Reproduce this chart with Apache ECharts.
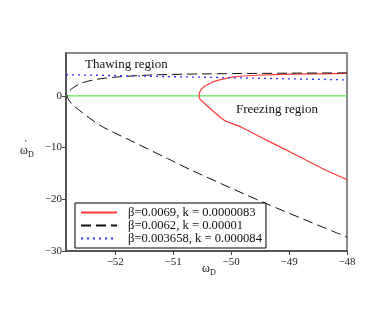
<!DOCTYPE html>
<html>
<head>
<meta charset="utf-8">
<script src="https://cdn.jsdelivr.net/npm/echarts@6/dist/echarts.min.js"></script>
<style>
  html, body { margin: 0; padding: 0; background: #fff; }
  #chart { width: 382px; height: 327px; }
</style>
</head>
<body>
<div id="chart"></div>
<script>
// curve data (omega_D, omega_D')
var redX = [-48, -48.96, -49.54, -49.95, -50.23, -50.35, -50.47, -50.53, -50.55, -50.55, -50.52, -50.12, -49.83, -49.4, -48.76, -48.4, -48];
var redY = [4.35, 4.2, 4.0, 3.7, 3.0, 2.5, 1.74, 1.0, 0.2, -0.3, -0.83, -4.7, -6.0, -8.5, -12.1, -14.2, -16.2];

var blackX = [-48, -49, -50.5, -51.34, -51.92, -52.32, -52.6, -52.78, -52.83, -52.79, -52.72, -52.26, -51.74, -51.1, -50.68, -49.4, -48];
var blackY = [4.45, 4.4, 4.25, 4.06, 3.7, 3.2, 2.4, 1.1, 0, -1.0, -1.9, -5.7, -8.6, -12.1, -14.4, -20.8, -27.3];

var blueX = [-52.85, -48];
var blueY = [4.1, 3.1];

var greenX = [-52.85, -48];
var greenY = [0, 0];

var legendNames = ['β=0.0069, k = 0.0000083', 'β=0.0062, k = 0.00001', 'β=0.003658, k = 0.000084'];
var xTicks = [-52, -51, -50, -49, -48];
var yTicks = [-30, -20, -10, 0];

function pairs(xs, ys) {
  return xs.map(function (x, i) { return [x, ys[i]]; });
}

var serif = 'Liberation Serif';
var minus = function (v) { return v < 0 ? '\u2212' + Math.abs(v) : String(v); };

var chart = echarts.init(document.getElementById('chart'));
chart.setOption({
  animation: false,
  backgroundColor: '#fff',
  grid: {
    left: 66, right: 35, top: 53, bottom: 76,
    show: true, borderColor: '#666', borderWidth: 1.5
  },
  xAxis: {
    type: 'value', min: -52.85, max: -48,
    axisLine: { show: true, onZero: false, lineStyle: { color: '#444', width: 1.5 } },
    axisTick: { show: true, length: 4, customValues: xTicks, lineStyle: { color: '#444' } },
    axisLabel: { customValues: xTicks, formatter: minus, color: '#222', fontFamily: serif, fontSize: 11, margin: 6 },
    splitLine: { show: false }
  },
  yAxis: {
    type: 'value', min: -30, max: 8.3,
    axisLine: { show: true, onZero: false, lineStyle: { color: '#444', width: 1.5 } },
    axisTick: { show: true, length: 4, customValues: yTicks, lineStyle: { color: '#444' } },
    axisLabel: { customValues: yTicks, formatter: minus, color: '#222', fontFamily: serif, fontSize: 11, margin: 4 },
    splitLine: { show: false }
  },
  legend: {
    data: legendNames,
    orient: 'vertical',
    left: 75, top: 203,
    backgroundColor: '#fff',
    borderColor: '#000', borderWidth: 1,
    borderRadius: 0,
    padding: [3, 4, 3, 5],
    itemWidth: 36, itemHeight: 8, itemGap: 0,
    itemStyle: { opacity: 0 },
    textStyle: { fontFamily: serif, fontSize: 12.6, lineHeight: 11, height: 11, color: '#111', padding: [0, 0, 0, 6] }
  },
  graphic: [
    { type: 'text', left: 85, top: 58, style: { text: 'Thawing region', font: '13px "Liberation Serif"', fill: '#111' } },
    { type: 'text', left: 236, top: 103, style: { text: 'Freezing region', font: '13px "Liberation Serif"', fill: '#111' } },
    { type: 'text', left: 20, top: 145, style: { text: 'ω', font: '12px "Liberation Serif"', fill: '#111' } },
    { type: 'text', left: 25, top: 139, style: { text: '\'', font: '9px "Liberation Serif"', fill: '#111' } },
    { type: 'text', left: 28, top: 151, style: { text: 'D', font: '8px "Liberation Serif"', fill: '#111' } },
    { type: 'text', left: 202, top: 263, style: { text: 'ω', font: '12px "Liberation Serif"', fill: '#111' } },
    { type: 'text', left: 210, top: 269, style: { text: 'D', font: '8px "Liberation Serif"', fill: '#111' } }
  ],
  series: [
    {
      name: 'zero', type: 'line', data: pairs(greenX, greenY), symbol: 'none',
      lineStyle: { color: '#55ee55', width: 1.2 }, z: 1
    },
    {
      name: legendNames[0], type: 'line', data: pairs(redX, redY), symbol: 'none',
      smooth: 0.15,
      lineStyle: { color: '#ff3b3b', width: 1.2 }, itemStyle: { color: '#ff3b3b' }
    },
    {
      name: legendNames[1], type: 'line', data: pairs(blackX, blackY), symbol: 'none',
      smooth: 0.3,
      lineStyle: { color: '#111', width: 1, type: [10, 5] }, itemStyle: { color: '#111' }
    },
    {
      name: legendNames[2], type: 'line', data: pairs(blueX, blueY), symbol: 'none',
      lineStyle: { color: '#3333ff', width: 1.3, type: [2, 4] }, itemStyle: { color: '#3333ff' }
    }
  ]
});
</script>
</body>
</html>
